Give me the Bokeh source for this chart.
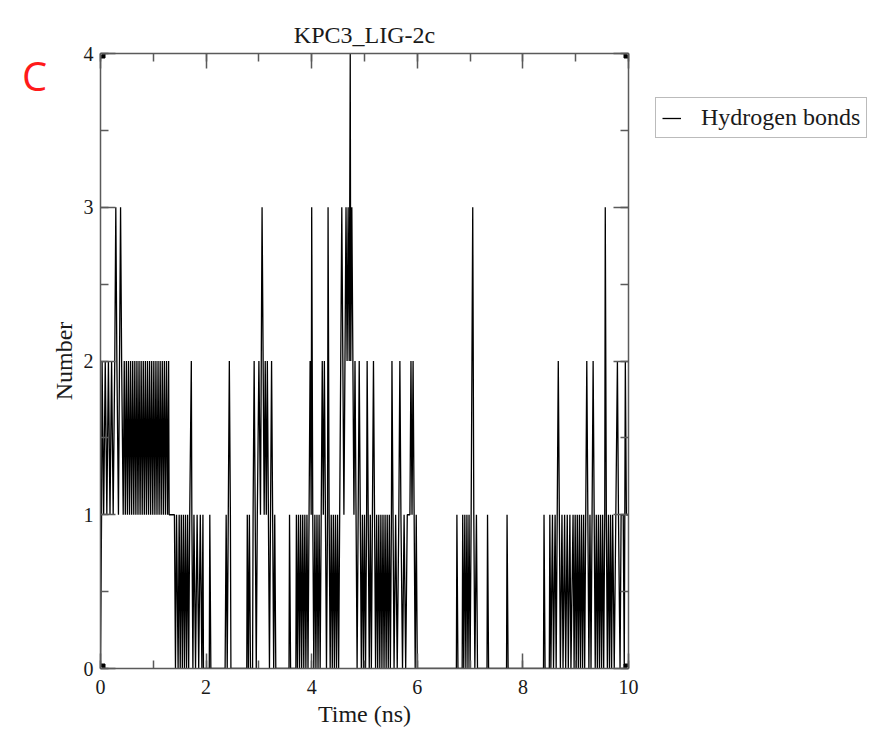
from bokeh.plotting import figure
from bokeh.layouts import row
from bokeh.models import (Range1d, LinearAxis, SingleIntervalTicker, Label,
                          Legend, LegendItem, Title)
from bokeh.embed import file_html
from bokeh.resources import INLINE

# ---- data: (time in ns, number of hydrogen bonds) ----
seg_0_1 = [(0.00,0),(0.02,1),(0.03,2),(0.06,1),(0.09,2),(0.12,1),(0.15,2),(0.18,1),
           (0.21,2),(0.24,1),(0.27,2),(0.29,3),(0.31,2),(0.34,1),(0.36,2),(0.38,3),
           (0.40,2),(0.43,1),(0.45,2),(0.47,1),(0.49,2),(0.51,1),(0.53,2),(0.55,1),
           (0.57,2),(0.59,1),(0.61,2),(0.63,1),(0.65,2),(0.67,1),(0.69,2),(0.71,1),
           (0.73,2),(0.75,1),(0.77,2),(0.79,1),(0.81,2),(0.83,1),(0.85,2),(0.87,1),
           (0.89,2),(0.91,1),(0.93,2),(0.95,1),(0.97,2),(0.99,1)]
seg_1_2 = [(1.01,2),(1.03,1),(1.05,2),(1.07,1),(1.09,2),(1.11,1),(1.13,2),(1.15,1),
           (1.17,2),(1.19,1),(1.21,2),(1.23,1),(1.25,2),(1.27,1),(1.29,2),(1.30,1),
           (1.40,1),(1.42,0),(1.44,1),(1.47,0),(1.49,1),(1.51,0),(1.53,1),(1.55,0),
           (1.57,1),(1.59,0),(1.61,1),(1.63,0),(1.65,1),(1.67,0),(1.69,1),(1.72,2),
           (1.73,1),(1.75,0),(1.77,1),(1.80,0),(1.83,1),(1.86,0),(1.89,1),(1.92,0),
           (1.94,1),(1.95,0)]
seg_2_3 = [(2.06,0),(2.07,1),(2.09,0),(2.36,0),(2.38,1),(2.40,0),(2.42,1),(2.44,2),
           (2.46,1),(2.47,0),(2.77,0),(2.78,1),(2.80,0),(2.82,1),(2.84,0),(2.88,0),
           (2.89,1),(2.91,2),(2.93,1),(2.95,0),(2.97,1)]
seg_3_4 = [(3.00,2),(3.03,1),(3.06,3),(3.08,2),(3.10,1),(3.12,2),(3.14,1),(3.16,2),
           (3.18,1),(3.20,0),(3.22,1),(3.24,2),(3.26,1),(3.28,0),(3.30,1),(3.32,0),
           (3.57,0),(3.58,1),(3.60,0),(3.70,0),(3.71,1),(3.73,0),(3.75,1),(3.77,0),
           (3.79,1),(3.81,0),(3.83,1),(3.85,0),(3.87,1),(3.89,0),(3.91,1),(3.93,0),
           (3.95,1),(3.97,2),(3.99,1)]
seg_4_5 = [(4.00,3),(4.02,1),(4.04,0),(4.06,1),(4.08,0),(4.10,1),(4.12,0),(4.14,1),
           (4.16,0),(4.18,1),(4.20,2),(4.22,1),(4.24,2),(4.26,1),(4.28,0),(4.30,1),
           (4.31,3),(4.33,1),(4.35,0),(4.37,1),(4.39,0),(4.41,1),(4.43,0),(4.45,1),
           (4.47,0),(4.49,1),(4.51,0),(4.53,1),(4.55,2),(4.57,3),(4.59,2),(4.61,1),
           (4.63,2),(4.65,3),(4.67,2),(4.69,3),(4.71,2),(4.73,4),(4.74,2),(4.76,3),
           (4.78,2),(4.80,1),(4.82,2),(4.84,1),(4.86,0),(4.88,1),(4.90,2),(4.92,1),
           (4.94,0),(4.96,1),(4.98,0)]
seg_5_6 = [(5.00,1),(5.02,0),(5.04,1),(5.05,2),(5.07,1),(5.09,0),(5.11,1),(5.13,0),
           (5.15,1),(5.17,2),(5.19,1),(5.21,0),(5.23,1),(5.25,0),(5.27,1),(5.29,0),
           (5.31,1),(5.33,0),(5.35,1),(5.37,0),(5.39,1),(5.41,0),(5.43,1),(5.45,0),
           (5.47,1),(5.49,0),(5.51,1),(5.52,2),(5.54,1),(5.56,0),(5.59,1),(5.62,0),
           (5.65,1),(5.67,2),(5.69,1),(5.72,0),(5.75,1),(5.78,0),(5.81,1),(5.86,1),
           (5.88,2),(5.90,1),(5.92,2),(5.94,1),(5.96,0),(5.98,1)]
seg_6_8 = [(6.00,0),(6.74,0),(6.75,1),(6.77,0),(6.85,0),(6.86,1),(6.88,0),(6.90,1),
           (6.92,0),(6.94,1),(6.96,0),(6.98,1),(7.00,0),(7.02,1),(7.05,3),(7.07,1),
           (7.09,0),(7.12,1),(7.14,0),(7.32,0),(7.33,1),(7.35,0),(7.69,0),(7.70,1),
           (7.72,0)]
seg_8_9 = [(8.39,0),(8.40,1),(8.42,0),(8.50,0),(8.51,1),(8.53,0),(8.56,1),(8.58,0),
           (8.61,1),(8.63,0),(8.65,1),(8.67,2),(8.69,1),(8.71,0),(8.74,1),(8.76,0),
           (8.79,1),(8.81,0),(8.84,1),(8.86,0),(8.89,1),(8.91,0),(8.95,1),(8.97,0),
           (8.99,1)]
seg_9_10 = [(9.01,0),(9.03,1),(9.05,0),(9.07,1),(9.09,0),(9.11,1),(9.13,0),(9.15,1),
            (9.17,0),(9.19,1),(9.21,2),(9.23,1),(9.25,0),(9.27,1),(9.29,0),(9.31,1),
            (9.33,2),(9.35,1),(9.37,0),(9.39,1),(9.41,0),(9.43,1),(9.45,0),(9.47,1),
            (9.49,0),(9.51,1),(9.53,0),(9.55,1),(9.56,3),(9.58,1),(9.60,0),(9.62,1),
            (9.64,0),(9.66,1),(9.68,0),(9.70,1),(9.73,0),(9.76,1),(9.79,2),(9.81,1),
            (9.84,0),(9.86,1),(9.90,1),(9.92,0),(9.94,2),(9.96,1),(10.00,1)]

x_lo, x_hi = 0, 10
y_lo, y_hi = 0, 4
title_text = "KPC3_LIG-2c"
x_label = "Time (ns)"
y_label = "Number"
series_name = "Hydrogen bonds"
panel_tag = "C"

segments = [seg_0_1, seg_1_2, seg_2_3, seg_3_4, seg_4_5, seg_5_6, seg_6_8, seg_8_9, seg_9_10]
hb_time = [t for seg in segments for t, _ in seg]
hb_count = [n for seg in segments for _, n in seg]

SERIF = "Liberation Serif"
AXIS_COL = "#5a5a5a"
TXT_COL = "#1a1a1a"
LINE_W = 1.3
FW, FH = 528, 615          # plot frame size (px)
H = 730
LEFT_W = 46
RIGHT_W = 232

# ---------------- main chart ----------------
p = figure(frame_width=FW, frame_height=FH,
           x_range=Range1d(x_lo, x_hi), y_range=Range1d(y_lo, y_hi),
           output_backend="svg", toolbar_location=None,
           min_border_left=100 - LEFT_W, min_border_top=53, min_border_right=14,
           min_border_bottom=H - 53 - FH, background_fill_color="white",
           border_fill_color="white")
p.grid.visible = False
p.outline_line_color = None

r = p.line(hb_time, hb_count, line_color="black", line_width=LINE_W)


def style_axis(ax, labels=True):
    ax.axis_line_color = AXIS_COL
    ax.axis_line_width = 1.5
    ax.major_tick_line_color = AXIS_COL
    ax.minor_tick_line_color = AXIS_COL
    ax.major_tick_line_width = 1.5
    ax.minor_tick_line_width = 1.5
    ax.major_tick_in = 15
    ax.major_tick_out = 0
    ax.minor_tick_in = 8
    ax.minor_tick_out = 0
    ax.major_label_text_font = SERIF
    ax.major_label_text_color = TXT_COL
    ax.major_label_text_font_size = "20px"
    if not labels:
        ax.major_label_text_alpha = 0
        ax.major_label_text_font_size = "2px"
        ax.major_label_standoff = 0
    ax.axis_label_text_font = SERIF
    ax.axis_label_text_font_style = "normal"
    ax.axis_label_text_color = TXT_COL
    ax.axis_label_text_font_size = "24px"


xa = p.xaxis[0]
xa.ticker = SingleIntervalTicker(interval=2, num_minor_ticks=2)
xa.axis_label = x_label
style_axis(xa)
xa.major_label_standoff = 11
xa.axis_label_standoff = 4

ya = p.yaxis[0]
ya.ticker = SingleIntervalTicker(interval=1, num_minor_ticks=2)
ya.axis_label = y_label
style_axis(ya)
ya.major_label_standoff = 7
ya.axis_label_standoff = 4

top = LinearAxis(ticker=SingleIntervalTicker(interval=2, num_minor_ticks=2))
style_axis(top, labels=False)
p.add_layout(top, "above")
right = LinearAxis(ticker=SingleIntervalTicker(interval=1, num_minor_ticks=2))
style_axis(right, labels=False)
p.add_layout(right, "right")

# corner markers (Grace style)
cx = [x_lo, x_lo, x_hi, x_hi]
cy = [y_lo, y_hi, y_hi, y_lo]
p.scatter(cx, cy, marker="square", size=9, fill_color="black", line_color="black")
p.scatter(cx, cy, marker="square", size=3, fill_color="white", line_color=None)

p.add_layout(Title(text=title_text, align="center", text_font=SERIF,
                   text_font_size="24px", text_font_style="normal",
                   text_color=TXT_COL, standoff=11), "above")

# ---------------- left strip with the panel tag ----------------
# (its frame is aligned with the main frame: vertical range is in frame pixels)
lf = figure(width=LEFT_W, height=H, x_range=Range1d(0, LEFT_W), y_range=Range1d(0, FH),
            output_backend="svg", toolbar_location=None, min_border=0,
            x_axis_location=None, y_axis_location=None, title_location=None,
            background_fill_color="white", border_fill_color="white")
lf.grid.visible = False
lf.outline_line_color = None
lf.add_layout(Label(x=34, y=FH - 22, text=panel_tag,
                    text_align="center", text_baseline="middle",
                    text_font="Open Sans", text_font_size="40px", text_color="#ff1a1a"))

# ---------------- right strip with the legend ----------------
rf = figure(width=RIGHT_W, height=H, x_range=Range1d(0, 1), y_range=Range1d(0, 1),
            output_backend="svg", toolbar_location=None, min_border=0,
            x_axis_location=None, y_axis_location=None, title_location=None,
            background_fill_color="white", border_fill_color="white")
rf.grid.visible = False
rf.outline_line_color = None
# legend proxy: same line style as the series, no visible points
lr = rf.line([float("nan")], [float("nan")], line_color="black", line_width=LINE_W)
legend = Legend(items=[LegendItem(label=series_name, renderers=[lr])],
                location=(13, FH - 85), margin=0, padding=6, spacing=0,
                glyph_width=19, glyph_height=20, label_height=20,
                label_standoff=20, label_text_font=SERIF,
                label_text_font_size="24px", label_text_color=TXT_COL,
                border_line_color="#777777", border_line_width=1.5,
                background_fill_color="white", background_fill_alpha=1)
rf.add_layout(legend)

layout = row(lf, p, rf, spacing=0)
open("out.html", "w").write(file_html(layout, INLINE))
